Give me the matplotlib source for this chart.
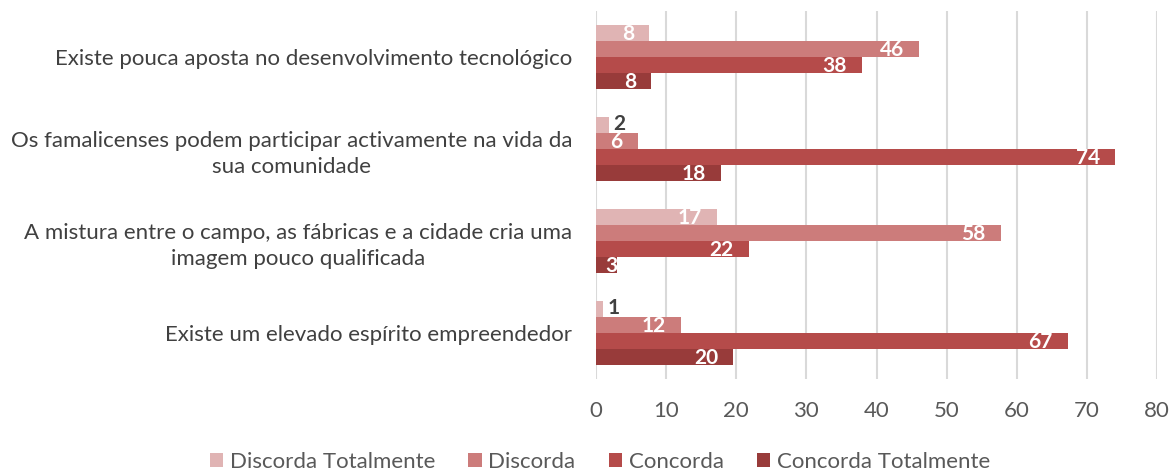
import matplotlib
matplotlib.use("Agg")
import matplotlib.pyplot as plt
from matplotlib.patches import Patch
import numpy as np

plt.rcParams['font.family'] = ['Lato', 'DejaVu Sans']

# Survey statements (top to bottom)
categories = [
    "Existe pouca aposta no desenvolvimento tecnológico",
    "Os famalicenses podem participar activamente na vida da\nsua comunidade",
    "A mistura entre o campo, as fábricas e a cidade cria uma\nimagem pouco qualificada",
    "Existe um elevado espírito empreendedor",
]
series_names = ["Discorda Totalmente", "Discorda", "Concorda", "Concorda Totalmente"]
discorda_totalmente = [7.6, 1.8, 17.3, 1.0]
discorda = [46.1, 6.0, 57.7, 12.1]
concorda = [38.0, 74.0, 21.8, 67.3]
concorda_totalmente = [7.9, 17.8, 3.0, 19.6]
x_ticks = [0, 10, 20, 30, 40, 50, 60, 70, 80]

colors = ["#E0B4B4", "#CC7C7B", "#B54B4A", "#983B3A"]
series = [discorda_totalmente, discorda, concorda, concorda_totalmente]

fig = plt.figure(figsize=(11.71, 4.75), dpi=100)
ax = fig.add_axes([596 / 1171, 1 - 379 / 475, (1157 - 596) / 1171, 368 / 475])

n = len(series)
bar_h = 0.174
y = np.arange(len(categories))
label_kw = dict(textcoords="offset points", va="center", fontsize=15,
                fontweight="bold", zorder=3)
for i, (vals, col) in enumerate(zip(series, colors)):
    pos = y + (i - (n - 1) / 2) * bar_h
    ax.barh(pos, vals, height=bar_h, color=col, zorder=2)
    for yy, v in zip(pos, vals):
        label = f"{v:.0f}"
        if v < 2.5:
            # too short for an inside label: dark text just past the bar end
            ax.annotate(label, (v, yy), xytext=(3, 1), ha="left",
                        color="#404040", **label_kw)
        elif v < 5:
            ax.annotate(label, (v, yy), xytext=(0, -1), ha="right",
                        color="white", **label_kw)
        else:
            ax.annotate(label, (v, yy), xytext=(-11, -1), ha="right",
                        color="white", **label_kw)

ax.set_xlim(0, 80)
ax.set_ylim(len(categories) - 0.5, -0.5)
ax.set_xticks(x_ticks)
ax.set_xticklabels([str(t) for t in x_ticks])
ax.set_yticks(y)
ax.set_yticklabels(categories, multialignment="center", linespacing=1.35)
ax.xaxis.grid(True, color="#D9D9D9", linewidth=1.5, zorder=0)
for s in ax.spines.values():
    s.set_visible(False)
ax.tick_params(axis="x", length=0, pad=16, labelsize=16, labelcolor="#595959")
ax.tick_params(axis="y", length=0, pad=17, labelsize=16, labelcolor="#404040")

handles = [Patch(facecolor=c, edgecolor="none") for c in colors]
fig.legend(handles, series_names, loc="center", bbox_to_anchor=(600 / 1171, 1 - 462 / 475),
           ncol=4, frameon=False, fontsize=16, labelcolor="#595959",
           handlelength=0.6, handleheight=0.6, handletextpad=0.3, columnspacing=1.5)

fig.savefig("out.png", dpi=100)
